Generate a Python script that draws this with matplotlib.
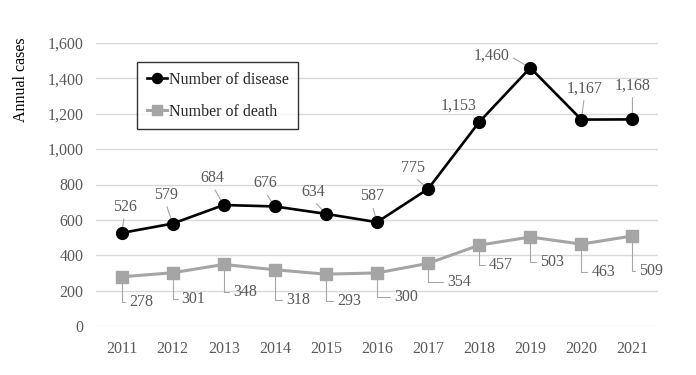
import matplotlib
matplotlib.use("Agg")
import matplotlib.pyplot as plt

years = ["2011", "2012", "2013", "2014", "2015", "2016", "2017", "2018", "2019", "2020", "2021"]
disease = [526, 579, 684, 676, 634, 587, 775, 1153, 1460, 1167, 1168]
death = [278, 301, 348, 318, 293, 300, 354, 457, 503, 463, 509]

# label offsets in pixels (dx, dy with y up), measured to label centre
disease_off = [(3, 26), (-7, 29), (-11, 27), (-10, 23), (-13, 22), (-5, 26),
               (-15, 21), (-21, 16), (-39, 12), (3, 31), (0, 34)]
disease_rel = [(0.5, 0)] * 7 + [(0.8, 0), (1, 0.5), (0.5, 0), (0.5, 0)]
death_off = [(20, -25), (21, -26), (21, -28), (23, -30), (23, -27), (29, -24),
             (31, -19), (22, -20), (22, -25), (22, -28), (19, -35)]

plt.rcParams['font.family'] = ['Liberation Serif', 'DejaVu Serif']
txt = '#595959'
lead = '#a6a6a6'
fs = 11.5

fig = plt.figure(figsize=(6.96, 3.75), dpi=100)
ax = fig.add_axes([96 / 696, 49 / 375, 562 / 696, 283 / 375])

x = list(range(len(years)))
ax.plot(x, disease, color='black', lw=1.9, marker='o', ms=8.5,
        label='Number of disease', zorder=4)
ax.plot(x, death, color='#a5a5a5', lw=2.2, marker='s', ms=8.5,
        label='Number of death', zorder=4)

for i, v in enumerate(disease):
    ax.annotate(f'{v:,}', (i, v), xytext=disease_off[i], textcoords='offset pixels',
                ha='center', va='center', fontsize=fs, color=txt,
                arrowprops=dict(arrowstyle='-', color=lead, lw=0.8,
                                shrinkA=1, shrinkB=0, relpos=disease_rel[i]))
for i, v in enumerate(death):
    ax.annotate(f'{v:,}', (i, v), xytext=death_off[i], textcoords='offset pixels',
                ha='center', va='center', fontsize=fs, color=txt,
                arrowprops=dict(arrowstyle='-', color=lead, lw=0.8,
                                shrinkA=1, shrinkB=0, relpos=(0, 0.5),
                                connectionstyle='angle,angleA=0,angleB=90,rad=0'))

ax.set_xlim(-0.5, len(years) - 0.5)
ax.set_ylim(0, 1600)
ax.set_yticks(range(0, 1601, 200))
ax.set_yticklabels([f'{t:,}' for t in range(0, 1601, 200)])
ax.set_xticks(x)
ax.set_xticklabels(years)
ax.tick_params(length=0, labelsize=fs, labelcolor=txt)
ax.tick_params(axis='y', pad=9)
ax.tick_params(axis='x', pad=11)
ax.grid(axis='y', color='#d9d9d9', lw=1)
ax.set_axisbelow(True)
for s in ax.spines.values():
    s.set_visible(False)

fig.text(21 / 696, 1 - 80 / 375, 'Annual cases', rotation=90, fontsize=fs,
         color='black', ha='center', va='center')

leg = ax.legend(loc='upper left', bbox_to_anchor=(0.073, 0.933), borderaxespad=0,
                fontsize=fs, frameon=True, fancybox=False, edgecolor='black',
                labelspacing=1.0, handlelength=1.3, handletextpad=0.1,
                borderpad=0.6, markerscale=0.85)
leg.get_frame().set_linewidth(1.0)
for t in leg.get_texts():
    t.set_color('#262626')

fig.savefig('out.png', dpi=100)
